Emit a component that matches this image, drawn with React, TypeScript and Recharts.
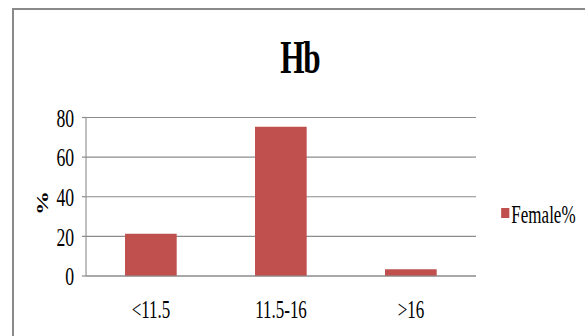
import React from 'react';
import { BarChart, Bar, XAxis, YAxis, CartesianGrid, Legend } from 'recharts';

// Hb ranges (g/dL) and share of female subjects in each range
const ranges = ['<11.5', '11.5-16', '>16'];
const femalePct = [21.3, 75.3, 3.4];
const yTicks = [0, 20, 40, 60, 80];
const edgeTicks = [0, 1, 2, 3];

const data = ranges.map((range, i) => ({ range, female: femalePct[i] }));

// the whole drawing is squeezed horizontally, like the old exported figure
const SQUEEZE = 0.68;
const W = 860;
const H = 336;
const GRID = '#8c8c8c';
const BAR = '#c0504d';
const SERIF = 'Times New Roman, Liberation Serif, DejaVu Serif, serif';

const LegendBox = (props: any) => {
  const item = props.payload && props.payload[0];
  if (!item) return null;
  return (
    <div style={{ display: 'flex', alignItems: 'flex-start', fontFamily: SERIF, fontSize: 25, lineHeight: '25px', color: '#000' }}>
      <span style={{ display: 'inline-block', width: 12, height: 10, marginTop: 6, marginRight: 3, background: item.color }} />
      <span>Female%</span>
    </div>
  );
};

export default function App() {
  return (
    <div style={{ position: 'fixed', left: 0, top: 0, width: 585, height: 336, overflow: 'hidden', background: '#fff' }}>
      <div style={{ position: 'absolute', left: 0, top: 0, width: W, height: H, transform: `scaleX(${SQUEEZE})`, transformOrigin: '0 0' }}>
        <BarChart
          width={W}
          height={H}
          data={data}
          margin={{ top: 117.5, right: 160, bottom: 0, left: 0 }}
          barCategoryGap="30%"
          style={{ fontFamily: SERIF }}
        >
          <CartesianGrid xAxisId="cat" vertical={false} stroke={GRID} strokeWidth={1.2} />
          <XAxis
            xAxisId="edges"
            type="number"
            domain={[0, 3]}
            allowDataOverflow
            ticks={edgeTicks}
            interval={0}
            height={0}
            tick={false}
            tickSize={9}
            axisLine={false}
            tickLine={{ stroke: GRID, strokeWidth: 1.6 }}
          />
          <XAxis
            xAxisId="cat"
            dataKey="range"
            height={60}
            tickLine={false}
            tickSize={9}
            tickMargin={15}
            axisLine={{ stroke: GRID, strokeWidth: 1.2 }}
            tick={{ fill: '#000', fontSize: 25, fontFamily: SERIF }}
            interval={0}
          />
          <YAxis
            width={126.5}
            domain={[0, 80]}
            ticks={yTicks}
            interval={0}
            tickSize={6}
            tickMargin={11.5}
            axisLine={{ stroke: GRID, strokeWidth: 1.6 }}
            tickLine={{ stroke: GRID, strokeWidth: 1.2 }}
            tick={{ fill: '#000', fontSize: 26, fontFamily: SERIF }}
          />
          <Legend
            layout="horizontal"
            align="center"
            verticalAlign="middle"
            content={LegendBox}
            wrapperStyle={{ left: 737, top: 202, width: 150, height: 26 }}
          />
          <Bar xAxisId="cat" dataKey="female" name="Female%" fill={BAR} isAnimationActive={false} />
        </BarChart>
        <svg width={W} height={H} style={{ position: 'absolute', left: 0, top: 0, pointerEvents: 'none' }}>
          <text x={441} y={73.3} textAnchor="middle" fontFamily={SERIF} fontWeight="bold" fontSize={46} letterSpacing={-2} fill="#000">
            Hb
          </text>
          <text
            x={71}
            y={203}
            textAnchor="middle"
            fontFamily={SERIF}
            fontWeight="bold"
            fontSize={24}
            fill="#000"
            transform="rotate(-90, 71, 203)"
          >
            %
          </text>
        </svg>
      </div>
      <div style={{ position: 'absolute', left: 12, top: 8, width: 700, height: 400, border: '2px solid #8a8a8a', boxSizing: 'border-box' }} />
    </div>
  );
}
